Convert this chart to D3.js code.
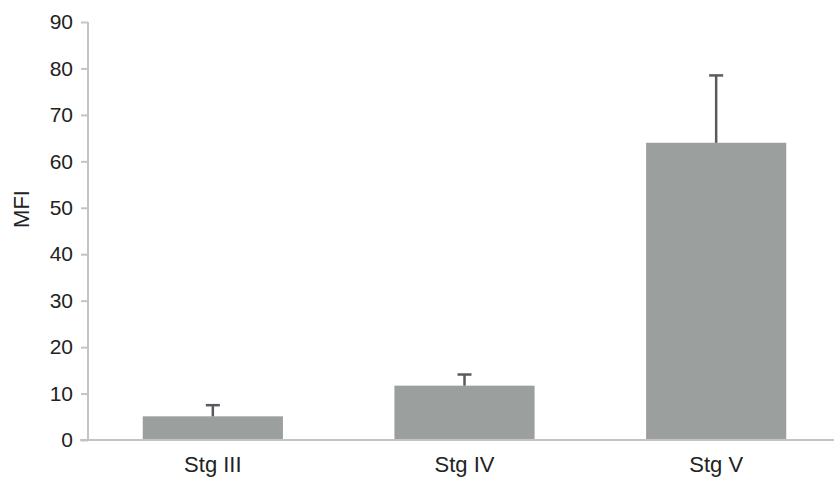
<!DOCTYPE html>
<html>
<head>
<meta charset="utf-8">
<script src="https://cdn.jsdelivr.net/npm/d3@7"></script>
<style>
  body { margin: 0; background: #fff; }
  text { font-family: "Liberation Sans", Arial, sans-serif; fill: #222; }
</style>
</head>
<body>
<script>
// values
const stages = ["Stg III", "Stg IV", "Stg V"];
const mfi = [5.1, 11.7, 64.0];
const errUp = [2.4, 2.4, 14.5];
const yTicks = [0, 10, 20, 30, 40, 50, 60, 70, 80, 90];

const width = 834, height = 479;

var svg = d3.select("body").append("svg")
    .attr("width", width)
    .attr("height", height);

var x = d3.scaleBand()
    .domain(stages)
    .range([87, 842])
    .paddingInner(0.443)
    .paddingOuter(0.2215);

var y = d3.scaleLinear()
    .domain([0, 90])
    .range([440, 22]);

// bars
svg.selectAll(".bar")
    .data(stages)
    .enter().append("rect")
    .attr("x", d => x(d))
    .attr("width", x.bandwidth())
    .attr("y", (d, i) => y(mfi[i]))
    .attr("height", (d, i) => y(0) - y(mfi[i]))
    .attr("fill", "#9ba09f");

// error bars (upper only)
var eb = svg.selectAll(".err")
    .data(stages)
    .enter().append("g");

eb.append("line")
    .attr("x1", d => x(d) + x.bandwidth() / 2)
    .attr("x2", d => x(d) + x.bandwidth() / 2)
    .attr("y1", (d, i) => y(mfi[i]))
    .attr("y2", (d, i) => y(mfi[i] + errUp[i]))
    .attr("stroke", "#575b5f")
    .attr("stroke-width", 2.5);

eb.append("line")
    .attr("x1", d => x(d) + x.bandwidth() / 2 - 7)
    .attr("x2", d => x(d) + x.bandwidth() / 2 + 7)
    .attr("y1", (d, i) => y(mfi[i] + errUp[i]))
    .attr("y2", (d, i) => y(mfi[i] + errUp[i]))
    .attr("stroke", "#575b5f")
    .attr("stroke-width", 2.5);

// y axis
var yAxis = svg.append("g")
    .attr("transform", "translate(88,0)")
    .call(d3.axisLeft(y).tickValues(yTicks).tickSize(7).tickPadding(8));

yAxis.select(".domain").remove();
yAxis.append("line")
    .attr("x1", 0).attr("x2", 0)
    .attr("y1", y(90)).attr("y2", y(0))
    .attr("stroke", "#c4c4c4")
    .attr("stroke-width", 2);
yAxis.selectAll(".tick line").attr("stroke", "#c4c4c4").attr("stroke-width", 2);
yAxis.selectAll(".tick text")
    .style("font-size", "21px")
    .attr("fill", "#222");

// x axis
var xAxis = svg.append("g")
    .attr("transform", `translate(0,${y(0)})`)
    .call(d3.axisBottom(x).tickSize(0).tickPadding(16));

xAxis.select(".domain").remove();
xAxis.append("line")
    .attr("x1", 80).attr("x2", width)
    .attr("y1", 0).attr("y2", 0)
    .attr("stroke", "#c4c4c4")
    .attr("stroke-width", 2);
xAxis.selectAll(".tick text")
    .style("font-size", "22px")
    .attr("fill", "#222");

// y label
svg.append("text")
    .attr("transform", "translate(29,209) rotate(-90)")
    .attr("text-anchor", "middle")
    .style("font-size", "22px")
    .text("MFI");
</script>
</body>
</html>
